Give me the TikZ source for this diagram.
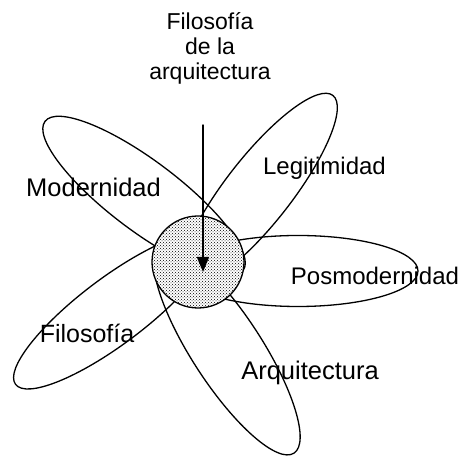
\documentclass[tikz,border=0pt]{standalone}
\usepackage{fontspec}
\setmainfont{Liberation Sans}
\usetikzlibrary{patterns,arrows.meta}

\begin{document}
\begin{tikzpicture}[x=1pt, y=1pt, line join=round, line cap=round, line width=1.3pt,
		font=\fontsize{24}{28}\selectfont]
			\useasboundingbox (0,0) rectangle (461,457);
			\coordinate (O) at (198,195);
			\coordinate (Mo) at (144,261);
			\coordinate (Le) at (259,267);
			\coordinate (Po) at (298,186);
			\coordinate (Ar) at (227,107);
			\coordinate (Fi) at (113,146);
			\coordinate (T) at (203,332);
			\coordinate (V) at (203,185);
			\draw[rotate around={-37:(Mo)}] (Mo) ellipse [x radius=124pt, y radius=35pt];
			\draw[rotate around={52:(Le)}] (Le) ellipse [x radius=120pt, y radius=33pt];
			\draw (Po) ellipse [x radius=120pt, y radius=35.5pt];
			\draw[rotate around={-57:(Ar)}] (Ar) ellipse [x radius=123pt, y radius=35pt];
			\draw[rotate around={37:(Fi)}] (Fi) ellipse [x radius=122pt, y radius=33pt];
			\draw[pattern=crosshatch dots, preaction={fill=white}] (O) circle [radius=46pt];
			\draw[-{Triangle[length=15pt,width=12pt]}, line width=1.4pt] (T) -- (V);
			\node[anchor=north, align=center, inner sep=0pt, font=\fontsize{23}{25}\selectfont] (top) at (210,445) {Filosofía\\de la\\arquitectura};
			\node[anchor=base, font=\fontsize{25.5}{28}\selectfont] (mod) at (93.5,260) {Modernidad};
			\node[anchor=base] (leg) at (324.5,282) {Legitimidad};
			\node[anchor=base] (pos) at (375,172) {Posmodernidad};
			\node[anchor=base, font=\fontsize{25}{28}\selectfont] (fil) at (87,114) {Filosofía};
			\node[anchor=base, font=\fontsize{25.5}{28}\selectfont] (arq) at (310,77) {Arquitectura};
		\end{tikzpicture}
\end{document}
